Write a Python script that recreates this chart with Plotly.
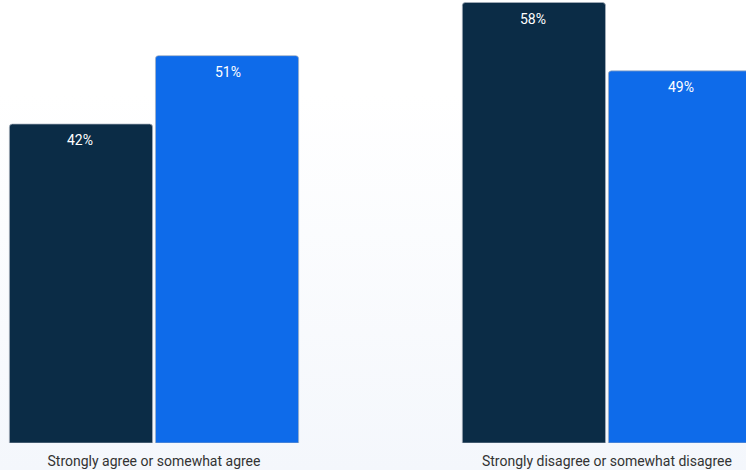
import base64
import plotly.graph_objects as go

categories = ["Strongly agree or somewhat agree", "Strongly disagree or somewhat disagree"]
series_names = ["Series A", "Series B"]
series_a = [42, 58]
series_b = [51, 49]
series_colors = ["#0b2c46", "#0e6bea"]

W, H = 746, 470
svg = f'''<svg xmlns="http://www.w3.org/2000/svg" width="{W}" height="{H}" preserveAspectRatio="none">
<defs><linearGradient id="g" x1="0" y1="0" x2="0" y2="1">
<stop offset="0" stop-color="#ffffff"/><stop offset="0.2" stop-color="#ffffff"/>
<stop offset="1" stop-color="#f4f7fc"/></linearGradient></defs>
<rect width="{W}" height="{H}" fill="url(#g)"/></svg>'''
bg_uri = "data:image/svg+xml;base64," + base64.b64encode(svg.encode()).decode()

fig = go.Figure()
for name, vals, col in zip(series_names, [series_a, series_b], series_colors):
    fig.add_trace(go.Bar(
        x=categories, y=vals, name=name,
        marker=dict(color=col, line=dict(color="rgba(170,178,190,0.7)", width=1)),
        hoverinfo="skip",
    ))

annotations = []
for si, vals in enumerate([series_a, series_b]):
    shift = -74 if si == 0 else 74
    for c, v in zip(categories, vals):
        annotations.append(dict(
            x=c, y=v, text=f"{v}%", showarrow=False, xshift=shift, yshift=-6,
            yanchor="top", font=dict(family="Roboto", size=14, color="#ffffff"),
        ))

fig.update_layout(
    width=W, height=H,
    margin=dict(l=0, r=0, t=0, b=27),
    barmode="group", bargap=0.355, bargroupgap=0.02, barcornerradius=3,
    showlegend=False,
    paper_bgcolor="rgba(0,0,0,0)", plot_bgcolor="rgba(0,0,0,0)",
    font=dict(family="Roboto", size=14, color="#333333"),
    xaxis=dict(range=[-0.34, 1.307], showgrid=False, zeroline=False, showline=False,
               ticks="outside", ticklen=5, tickcolor="rgba(0,0,0,0)",
               tickfont=dict(family="Roboto", size=14, color="#333333")),
    yaxis=dict(range=[0, 58.33], visible=False, showgrid=False, zeroline=False),
    annotations=annotations,
    images=[dict(source=bg_uri, xref="paper", yref="paper", x=0, y=1,
                 sizex=1, sizey=1 + 27 / 443, xanchor="left", yanchor="top",
                 sizing="stretch", layer="below")],
)

fig.write_html("out.html", config={"displayModeBar": False, "staticPlot": True},
               post_script="document.body.style.margin='0';document.body.style.overflow='hidden';")
